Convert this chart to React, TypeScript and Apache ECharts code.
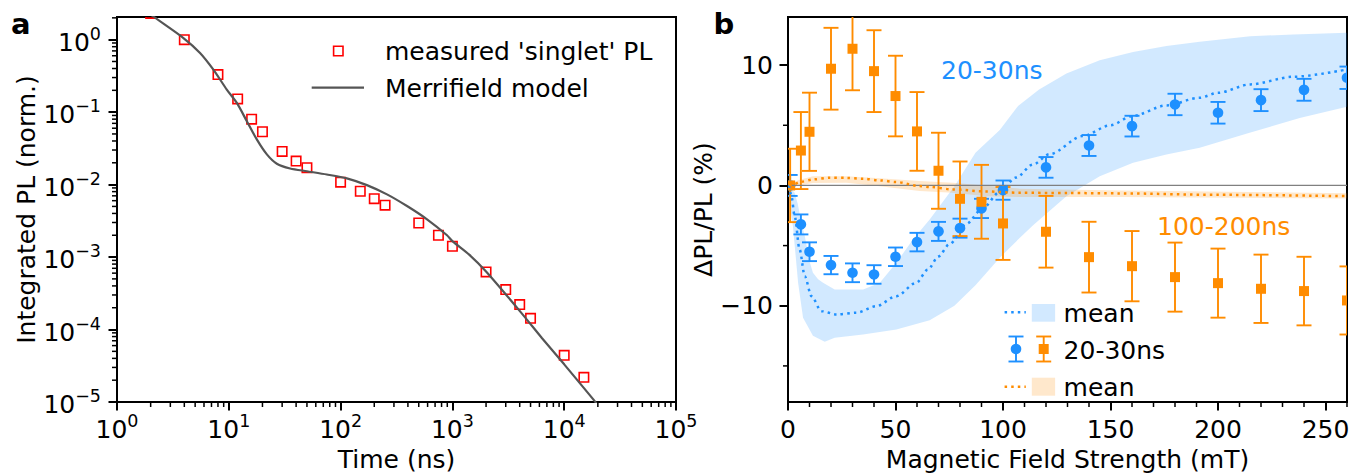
import React, { useEffect, useRef } from 'react';
import * as echarts from 'echarts';

const FONT = "'DejaVu Sans', 'Liberation Sans', sans-serif";
const BLUE = '#1E90FF';
const ORANGE = '#FF8C00';
const BLUE_FILL = 'rgba(30,144,255,0.2)';
const ORANGE_FILL = 'rgba(255,140,0,0.2)';
const MODEL_GRAY = '#555555';

// ---------- Panel a: integrated PL decay ----------
const timeNs = [2, 4, 8, 12, 16, 20, 30, 40, 50, 100, 150, 200, 250, 500, 750, 1000, 2000, 3000, 4000, 5000, 10000, 15000];
const singletPL = [2.3, 1.0, 0.33, 0.152, 0.08, 0.0536, 0.0287, 0.0211, 0.0171, 0.0108, 0.0081, 0.0064, 0.0052, 0.00295, 0.002, 0.00141, 0.000624, 0.000356, 0.000221, 0.000143, 4.4e-5, 2.19e-5];
const modelTime = [1.78, 2.11, 3.93, 5.53, 7.28, 9.59, 11.8, 14.5, 17.8, 21.9, 26.9, 35.4, 49.9, 75.3, 113.8, 171.8, 260, 392.6, 593, 895, 1000, 1413, 2000, 4083, 6339, 10000, 18365, 19953];
const modelPL = [2.57, 2.09, 1.054, 0.656, 0.386, 0.205, 0.134, 0.075, 0.042, 0.0261, 0.0194, 0.0167, 0.0153, 0.0138, 0.0122, 0.00984, 0.00733, 0.00506, 0.00332, 0.002, 0.00166, 0.00108, 0.000631, 0.000174, 7.59e-5, 3.31e-5, 1.07e-5, 9.1e-6];
const xTicksA = [1, 10, 100, 1000, 10000, 100000];
const yTicksA = [1e-5, 1e-4, 1e-3, 1e-2, 1e-1, 1];

// ---------- Panel b: magnetic field effect ----------
const fieldB = [1, 6, 10, 20, 30, 40, 50, 60, 70, 80, 90, 100, 120, 140, 160, 180, 200, 220, 240, 260];
const blueDPL = [0.0, -3.24, -5.51, -6.62, -7.26, -7.4, -5.93, -4.71, -3.82, -3.55, -1.91, -0.39, 1.5, 3.32, 4.93, 6.73, 6.04, 7.09, 7.95, 8.95];
const blueErr = [0.87, 0.83, 0.78, 0.76, 0.78, 0.77, 0.77, 0.77, 0.79, 0.79, 0.8, 0.8, 0.86, 0.87, 0.86, 0.89, 0.9, 0.91, 0.91, 0.93];
const orangeDPL = [0.0, 2.9, 4.46, 9.7, 11.36, 9.5, 7.43, 4.49, 1.22, -1.11, -1.36, -3.16, -3.85, -5.96, -6.71, -7.62, -8.12, -8.59, -8.78, -9.56];
const orangeErr = [3.05, 3.2, 3.25, 3.4, 3.45, 3.4, 3.35, 3.27, 3.16, 3.1, 3.07, 3.03, 2.98, 2.94, 2.92, 2.87, 2.87, 2.84, 2.85, 2.83];

const blueMeanB = [0.5, 1.6, 3.1, 5.4, 7.8, 10.9, 15.5, 22.5, 31.8, 41.1, 50.4, 59.7, 65, 70, 75, 83, 90, 98.5, 106, 114, 121.7, 137, 150, 160, 176, 191.5, 200, 215, 235, 260];
const blueMean = [0.0, -0.89, -2.55, -5.32, -7.54, -9.2, -10.45, -10.72, -10.58, -10.03, -9.2, -8.09, -7.0, -5.9, -4.9, -3.2, -2.0, -0.55, 0.65, 1.75, 2.6, 4.1, 5.0, 5.76, 6.65, 7.29, 7.7, 8.4, 9.03, 9.64];
const blueUpperB = [0.5, 3.1, 4.5, 6, 7.8, 10, 11.6, 14, 16.3, 21.7, 30, 35, 42.7, 50.4, 58.1, 65.9, 77.4, 87.2, 98.5, 107, 116.8, 129.5, 145, 160.5, 176, 191.5, 215, 235, 260];
const blueUpper = [-0.1, -0.6, -1.5, -2.9, -4.2, -6.3, -7.26, -7.8, -8.09, -8.65, -8.65, -8.65, -8.09, -6.43, -4.49, -2.83, -0.06, 2.72, 4.6, 6.6, 7.98, 9.3, 10.4, 11.1, 11.6, 11.95, 12.4, 12.55, 12.69];
const blueLowerB = [0.5, 2.3, 4.7, 7, 11.6, 17.1, 21.7, 34.9, 50.4, 65.9, 77.4, 87.2, 98.5, 107, 114, 129.5, 145, 160.5, 176, 191.5, 214.7, 238, 260];
const blueLower = [-1.2, -3.4, -8.09, -11.0, -12.5, -13.0, -12.67, -12.39, -11.97, -11.2, -10.0, -8.3, -6.0, -4.5, -3.3, -0.89, 0.77, 1.88, 2.58, 3.13, 4.38, 5.6, 6.55];

const orangeMeanB = [0.5, 2.3, 6, 11.6, 19.4, 27, 34.9, 42.7, 50.4, 61, 66, 76.7, 92, 107.8, 130, 154.3, 200, 260];
const orangeMean = [0.0, 0.08, 0.3, 0.5, 0.64, 0.63, 0.56, 0.42, 0.28, -0.05, -0.13, -0.33, -0.5, -0.61, -0.63, -0.66, -0.78, -0.89];
const orangeUpperB = [0.5, 5, 11.6, 27.2, 42.7, 61.2, 76.7, 107.8, 154.3, 260];
const orangeUpper = [0.1, 0.45, 0.77, 0.77, 0.6, 0.36, 0.22, -0.27, -0.42, -0.65];
const orangeLowerB = [0.5, 11.6, 27.2, 42.7, 61.2, 76.7, 92.3, 107.8, 154.3, 260];
const orangeLower = [-0.15, 0.2, 0.22, -0.06, -0.47, -0.61, -0.89, -0.97, -0.97, -1.08];

const xTicksB = [0, 50, 100, 150, 200, 250];
const yTicksB = [-10, 0, 10];

// minor tick positions
const decadeMinors = (from: number, to: number) => {
  const out: number[] = [];
  for (let e = from; e < to; e++) for (let m = 2; m <= 9; m++) out.push(m * Math.pow(10, e));
  return out;
};
const xMinorA = decadeMinors(0, 5);
const yMinorA = [...decadeMinors(-5, 0), 2];
const xMinorB = [10, 20, 30, 40, 60, 70, 80, 90, 110, 120, 130, 140, 160, 170, 180, 190, 210, 220, 230, 240, 260];
const yMinorB = [-15, -5, 5];

const expLabel = (v: number) => {
  const e = Math.round(Math.log10(v));
  const s = e < 0 ? '\u2212' + Math.abs(e) : String(e);
  return `{b|10}{s|${s}}`;
};
const richLog = {
  b: { fontSize: 25, fontFamily: FONT, color: '#000', verticalAlign: 'bottom', lineHeight: 30 },
  s: { fontSize: 17.5, fontFamily: FONT, color: '#000', verticalAlign: 'top', lineHeight: 18 },
};
const linLabel = (v: number) => (v < 0 ? '\u2212' + Math.abs(v) : String(v));

const areaClip = (params: any) => {
  const cs = params.coordSys;
  return { type: 'rect', shape: { x: cs.x, y: cs.y, width: cs.width, height: cs.height } };
};

const tickSeries = (gi: number, data: number[][], dir: 'x' | 'y', len: number, width: number) => ({
  type: 'custom',
  xAxisIndex: gi,
  yAxisIndex: gi,
  silent: true,
  z: 6,
  data,
  renderItem: (_p: any, api: any) => {
    const c = api.coord([api.value(0), api.value(1)]);
    const shape = dir === 'x'
      ? { x1: c[0], y1: c[1], x2: c[0], y2: c[1] + len }
      : { x1: c[0] - len, y1: c[1], x2: c[0], y2: c[1] };
    return { type: 'line', shape, style: { stroke: '#000', lineWidth: width } };
  },
});

const bandSeries = (upB: number[], up: number[], loB: number[], lo: number[], fill: string) => ({
  type: 'custom',
  xAxisIndex: 1,
  yAxisIndex: 1,
  silent: true,
  data: [[0, 0]],
  renderItem: (_p: any, api: any) => {
    const pts: number[][] = [];
    upB.forEach((b, i) => pts.push(api.coord([b, up[i]])));
    for (let i = loB.length - 1; i >= 0; i--) pts.push(api.coord([loB[i], lo[i]]));
    return { type: 'polygon', shape: { points: pts }, style: { fill } };
  },
});

const errorSeries = (vals: number[], errs: number[], color: string) => ({
  type: 'custom',
  xAxisIndex: 1,
  yAxisIndex: 1,
  clip: true,
  silent: true,
  data: fieldB.map((b, i) => [b, vals[i], errs[i]]),
  renderItem: (params: any, api: any) => {
    const x = api.value(0), y = api.value(1), e = api.value(2);
    const t = api.coord([x, y + e]);
    const b = api.coord([x, y - e]);
    const cap = 7.5;
    const st = { stroke: color, lineWidth: 1.9 };
    return {
      type: 'group',
      clipPath: areaClip(params),
      children: [
        { type: 'line', shape: { x1: t[0], y1: t[1], x2: b[0], y2: b[1] }, style: st },
        { type: 'line', shape: { x1: t[0] - cap, y1: t[1], x2: t[0] + cap, y2: t[1] }, style: st },
        { type: 'line', shape: { x1: b[0] - cap, y1: b[1], x2: b[0] + cap, y2: b[1] }, style: st },
      ],
    };
  },
});

const markerSeries = (vals: number[], color: string, kind: 'circle' | 'square') => ({
  type: 'custom',
  xAxisIndex: 1,
  yAxisIndex: 1,
  clip: true,
  silent: true,
  data: fieldB.map((b, i) => [b, vals[i]]),
  renderItem: (params: any, api: any) => {
    const c = api.coord([api.value(0), api.value(1)]);
    const mark = kind === 'circle'
      ? { type: 'circle', shape: { cx: c[0], cy: c[1], r: 5.3 }, style: { fill: color } }
      : { type: 'rect', shape: { x: c[0] - 5, y: c[1] - 5, width: 10, height: 10 }, style: { fill: color } };
    return { type: 'group', clipPath: areaClip(params), children: [mark] };
  },
});

const axisCommon = {
  axisLine: { show: true, onZero: false, lineStyle: { color: '#000', width: 2 } },
  splitLine: { show: false },
  nameTextStyle: { fontSize: 25, fontFamily: FONT, color: '#000' },
  nameLocation: 'middle' as const,
};

const errGlyph = (cx: number, cy: number, color: string, kind: 'circle' | 'square') => {
  const st = { stroke: color, lineWidth: 1.9 };
  return [
    { type: 'line', shape: { x1: cx, y1: cy - 12.5, x2: cx, y2: cy + 12.5 }, style: st },
    { type: 'line', shape: { x1: cx - 7.5, y1: cy - 12.5, x2: cx + 7.5, y2: cy - 12.5 }, style: st },
    { type: 'line', shape: { x1: cx - 7.5, y1: cy + 12.5, x2: cx + 7.5, y2: cy + 12.5 }, style: st },
    kind === 'circle'
      ? { type: 'circle', shape: { cx, cy, r: 5.3 }, style: { fill: color } }
      : { type: 'rect', shape: { x: cx - 5, y: cy - 5, width: 10, height: 10 }, style: { fill: color } },
  ];
};

const txt = (x: number, y: number, text: string, color = '#000', size = 25, weight = 'normal') => ({
  type: 'text',
  x,
  y,
  style: { text, fill: color, fontSize: size, fontFamily: FONT, fontWeight: weight, verticalAlign: 'middle', align: 'left' },
});

export default function App() {
  const ref = useRef<HTMLDivElement>(null);
  useEffect(() => {
    if (!ref.current) return;
    const chart = echarts.init(ref.current, null, { renderer: 'svg' });
    const option: any = {
      animation: false,
      backgroundColor: '#ffffff',
      textStyle: { fontFamily: FONT },
      grid: [
        { left: 117, top: 17, width: 559, height: 385, show: true, borderColor: '#000', borderWidth: 2, backgroundColor: 'transparent', containLabel: false, outerBoundsMode: 'none' },
        { left: 788, top: 17, width: 559, height: 385, show: true, borderColor: '#000', borderWidth: 2, backgroundColor: 'transparent', containLabel: false, outerBoundsMode: 'none' },
      ],
      xAxis: [
        {
          ...axisCommon,
          gridIndex: 0,
          type: 'log',
          logBase: 10,
          min: 1,
          max: 100000,
          name: 'Time (ns)',
          nameGap: 44,
          axisTick: { show: true, length: 8.5, lineStyle: { color: '#000', width: 2 }, customValues: xTicksA },
          axisLabel: { show: true, margin: 10, customValues: xTicksA, formatter: expLabel, rich: richLog, showMinLabel: true, showMaxLabel: true },
        },
        {
          ...axisCommon,
          gridIndex: 1,
          type: 'value',
          min: 0,
          max: 260,
          name: 'Magnetic Field Strength (mT)',
          nameGap: 44,
          axisTick: { show: true, length: 8.5, lineStyle: { color: '#000', width: 2 }, customValues: xTicksB },
          axisLabel: { show: true, margin: 15, customValues: xTicksB, formatter: linLabel, fontSize: 25, fontFamily: FONT, color: '#000', showMinLabel: true, showMaxLabel: true },
        },
      ],
      yAxis: [
        {
          ...axisCommon,
          gridIndex: 0,
          type: 'log',
          logBase: 10,
          min: 1e-5,
          max: 2.055,
          name: 'Integrated PL (norm.)',
          nameGap: 71,
          axisTick: { show: true, length: 8.5, lineStyle: { color: '#000', width: 2 }, customValues: yTicksA },
          axisLabel: { show: true, margin: 16, customValues: yTicksA, formatter: expLabel, rich: richLog, showMinLabel: true, showMaxLabel: true },
        },
        {
          ...axisCommon,
          gridIndex: 1,
          type: 'value',
          min: -18,
          max: 14,
          name: '\u0394PL/PL (%)',
          nameGap: 58,
          axisTick: { show: true, length: 8.5, lineStyle: { color: '#000', width: 2 }, customValues: yTicksB },
          axisLabel: { show: true, margin: 15, customValues: yTicksB, formatter: linLabel, fontSize: 25, fontFamily: FONT, color: '#000', showMinLabel: true, showMaxLabel: true },
        },
      ],
      series: [
        // panel a
        {
          type: 'line',
          xAxisIndex: 0,
          yAxisIndex: 0,
          data: modelTime.map((t, i) => [t, modelPL[i]]),
          showSymbol: false,
          smooth: 0.25,
          clip: true,
          silent: true,
          lineStyle: { color: MODEL_GRAY, width: 2.2 },
        },
        {
          type: 'custom',
          xAxisIndex: 0,
          yAxisIndex: 0,
          clip: true,
          silent: true,
          data: timeNs.map((t, i) => [t, singletPL[i]]),
          renderItem: (params: any, api: any) => {
            const c = api.coord([api.value(0), api.value(1)]);
            return {
              type: 'group',
              clipPath: areaClip(params),
              children: [
                { type: 'rect', shape: { x: c[0] - 4.7, y: c[1] - 4.7, width: 9.4, height: 9.4 }, style: { fill: 'none', stroke: '#ff0000', lineWidth: 1.6 } },
              ],
            };
          },
        },
        tickSeries(0, xMinorA.map((v) => [v, 1e-5]), 'x', 5, 1.5),
        tickSeries(0, yMinorA.map((v) => [1, v]), 'y', 5, 1.5),
        // panel b
        bandSeries(blueUpperB, blueUpper, blueLowerB, blueLower, BLUE_FILL),
        bandSeries(orangeUpperB, orangeUpper, orangeLowerB, orangeLower, ORANGE_FILL),
        {
          type: 'line',
          xAxisIndex: 1,
          yAxisIndex: 1,
          data: [[0, 0], [260, 0]],
          showSymbol: false,
          silent: true,
          lineStyle: { color: '#808080', width: 1.3 },
        },
        {
          type: 'line',
          xAxisIndex: 1,
          yAxisIndex: 1,
          data: blueMeanB.map((b, i) => [b, blueMean[i]]),
          showSymbol: false,
          smooth: 0.3,
          smoothMonotone: 'x',
          silent: true,
          lineStyle: { color: BLUE, width: 2.5, type: [2.5, 4.1] },
        },
        {
          type: 'line',
          xAxisIndex: 1,
          yAxisIndex: 1,
          data: orangeMeanB.map((b, i) => [b, orangeMean[i]]),
          showSymbol: false,
          smooth: 0.3,
          smoothMonotone: 'x',
          silent: true,
          lineStyle: { color: ORANGE, width: 2.5, type: [2.5, 4.1] },
        },
        errorSeries(blueDPL, blueErr, BLUE),
        errorSeries(orangeDPL, orangeErr, ORANGE),
        markerSeries(blueDPL, BLUE, 'circle'),
        markerSeries(orangeDPL, ORANGE, 'square'),
        tickSeries(1, xMinorB.map((v) => [v, -18]), 'x', 5, 1.5),
        tickSeries(1, yMinorB.map((v) => [0, v]), 'y', 5, 1.5),
      ],
      graphic: [
        txt(11, 23.5, 'a', '#000', 29, 'bold'),
        txt(713.5, 23.8, 'b', '#000', 29, 'bold'),
        // legend a
        { type: 'rect', shape: { x: 333.6, y: 46.3, width: 9.4, height: 9.4 }, style: { fill: 'none', stroke: '#ff0000', lineWidth: 1.6 } },
        txt(385, 51.3, "measured 'singlet' PL"),
        { type: 'line', shape: { x1: 311.7, y1: 87.7, x2: 364, y2: 87.7 }, style: { stroke: MODEL_GRAY, lineWidth: 2.2 } },
        txt(385, 88, 'Merrifield model'),
        // annotations b
        txt(941, 70.3, '20-30ns', BLUE),
        txt(1157, 226.3, '100-200ns', ORANGE),
        // legend b
        { type: 'line', shape: { x1: 1004.6, y1: 312.3, x2: 1025.8, y2: 312.3 }, style: { stroke: BLUE, lineWidth: 2.5, lineDash: [2.5, 4.1] } },
        { type: 'rect', shape: { x: 1031.8, y: 304, width: 23.3, height: 17.7 }, style: { fill: BLUE_FILL } },
        txt(1063.6, 313.5, 'mean'),
        ...errGlyph(1016, 349, BLUE, 'circle'),
        ...errGlyph(1043.7, 349, ORANGE, 'square'),
        txt(1063.6, 350, '20-30ns'),
        { type: 'line', shape: { x1: 1004.6, y1: 386.7, x2: 1025.8, y2: 386.7 }, style: { stroke: ORANGE, lineWidth: 2.5, lineDash: [2.5, 4.1] } },
        { type: 'rect', shape: { x: 1031.8, y: 377.7, width: 23.3, height: 18 }, style: { fill: ORANGE_FILL } },
        txt(1063.6, 387.5, 'mean'),
      ],
    };
    chart.setOption(option);
    return () => chart.dispose();
  }, []);
  return (
    <div
      ref={ref}
      style={{ position: 'fixed', left: 0, top: 0, width: 1362, height: 473, background: '#fff' }}
    />
  );
}
